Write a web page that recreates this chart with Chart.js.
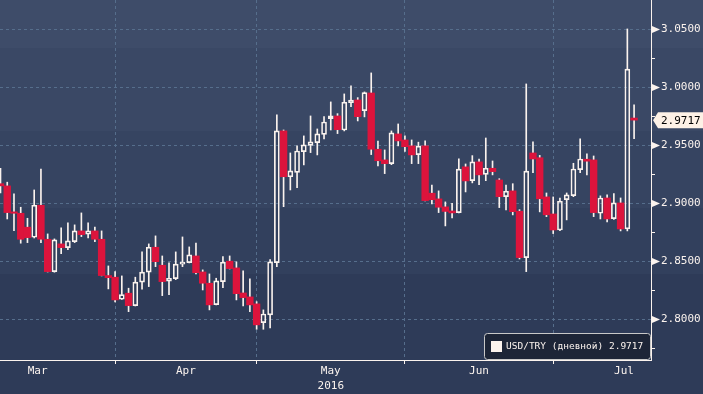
<!DOCTYPE html>
<html>
<head>
<meta charset="utf-8">
<script src="https://cdn.jsdelivr.net/npm/chart.js@4.4.1/dist/chart.umd.min.js"></script>
<style>
  html, body { margin: 0; padding: 0; background: #2c3855; }
  canvas { display: block; }
</style>
</head>
<body>
<canvas id="fx" width="703" height="394"></canvas>
<script>
// USD/TRY daily candles, Mar - Jul 2016 (one entry per trading day)
const open = [2.9169, 2.9150, 2.8926, 2.8914, 2.8794, 2.8707, 2.8983, 2.8690, 2.8411, 2.8650,
  2.8618, 2.8670, 2.8762, 2.8733, 2.8762, 2.8690, 2.8377, 2.8363, 2.8173, 2.8225,
  2.8118, 2.8320, 2.8406, 2.8621, 2.8466, 2.8328, 2.8351, 2.8475, 2.8489, 2.8546,
  2.8408, 2.8311, 2.8127, 2.8325, 2.8501, 2.8443, 2.8227, 2.8193, 2.8133, 2.7971,
  2.8038, 2.8489, 2.9624, 2.9229, 2.9266, 2.9445, 2.9499, 2.9523, 2.9594, 2.9730,
  2.9753, 2.9632, 2.9868, 2.9891, 2.9799, 2.9951, 2.9466, 2.9374, 2.9342, 2.9598,
  2.9546, 2.9495, 2.9420, 2.9495, 2.9087, 2.9038, 2.8969, 2.8934, 2.8920, 2.9314,
  2.9195, 2.9357, 2.9249, 2.9302, 2.9201, 2.9057, 2.9107, 2.8932, 2.8532, 2.9434,
  2.9393, 2.9055, 2.8908, 2.8770, 2.9032, 2.9066, 2.9290, 2.9380, 2.9374, 2.8914,
  2.9046, 2.8868, 2.9003, 2.8779, 2.9735];
const high = [2.9302, 2.9182, 2.9081, 2.8966, 2.8871, 2.9115, 2.9296, 2.8736, 2.8693, 2.8788,
  2.8831, 2.8814, 2.8917, 2.8831, 2.8796, 2.8762, 2.8460, 2.8411, 2.8374, 2.8268,
  2.8363, 2.8581, 2.8650, 2.8719, 2.8546, 2.8486, 2.8581, 2.8710, 2.8624, 2.8658,
  2.8426, 2.8391, 2.8354, 2.8540, 2.8546, 2.8495, 2.8417, 2.8348, 2.8152, 2.8081,
  2.8514, 2.9762, 2.9632, 2.9434, 2.9495, 2.9581, 2.9753, 2.9641, 2.9747, 2.9874,
  2.9773, 2.9943, 3.0012, 2.9911, 2.9960, 3.0124, 2.9536, 2.9460, 2.9624, 2.9684,
  2.9581, 2.9546, 2.9527, 2.9538, 2.9158, 2.9107, 2.9012, 2.9000, 2.9384, 2.9339,
  2.9411, 2.9382, 2.9563, 2.9365, 2.9212, 2.9158, 2.9169, 2.8945, 3.0029, 2.9529,
  2.9413, 2.9089, 2.9055, 2.9046, 2.9089, 2.9345, 2.9555, 2.9426, 2.9408, 2.9064,
  2.9072, 2.9083, 2.9046, 3.0503, 2.9848];
const low = [2.9089, 2.8865, 2.8764, 2.8656, 2.8661, 2.8701, 2.8661, 2.8408, 2.8406, 2.8566,
  2.8601, 2.8661, 2.8713, 2.8701, 2.8670, 2.8374, 2.8262, 2.8150, 2.8171, 2.8066,
  2.8115, 2.8259, 2.8282, 2.8454, 2.8204, 2.8213, 2.8342, 2.8454, 2.8486, 2.8391,
  2.8253, 2.8081, 2.8124, 2.8273, 2.8434, 2.8167, 2.8115, 2.8066, 2.7914, 2.7914,
  2.7926, 2.8454, 2.8971, 2.9115, 2.9135, 2.9331, 2.9437, 2.9417, 2.9555, 2.9632,
  2.9601, 2.9624, 2.9833, 2.9710, 2.9745, 2.9420, 2.9322, 2.9256, 2.9333, 2.9495,
  2.9447, 2.9342, 2.9342, 2.9020, 2.8995, 2.8920, 2.8805, 2.8874, 2.8917, 2.9098,
  2.9176, 2.9161, 2.9195, 2.9245, 2.8963, 2.8943, 2.8900, 2.8520, 2.8411, 2.9264,
  2.8926, 2.8885, 2.8739, 2.8764, 2.8857, 2.9057, 2.9264, 2.9245, 2.8885, 2.8865,
  2.8839, 2.8861, 2.8762, 2.8762, 2.9557];
const close = [2.9150, 2.8920, 2.8914, 2.8690, 2.8704, 2.8983, 2.8690, 2.8411, 2.8684, 2.8618,
  2.8676, 2.8762, 2.8730, 2.8762, 2.8690, 2.8377, 2.8359, 2.8167, 2.8213, 2.8118,
  2.8320, 2.8406, 2.8621, 2.8497, 2.8325, 2.8354, 2.8475, 2.8493, 2.8555, 2.8402,
  2.8311, 2.8124, 2.8331, 2.8492, 2.8437, 2.8221, 2.8187, 2.8124, 2.7952, 2.8046,
  2.8495, 2.9624, 2.9229, 2.9279, 2.9451, 2.9503, 2.9529, 2.9598, 2.9701, 2.9753,
  2.9635, 2.9871, 2.9889, 2.9747, 2.9954, 2.9466, 2.9367, 2.9342, 2.9607, 2.9538,
  2.9488, 2.9417, 2.9493, 2.9023, 2.9031, 2.8966, 2.8930, 2.8917, 2.9295, 2.9193,
  2.9357, 2.9245, 2.9302, 2.9273, 2.9057, 2.9104, 2.8928, 2.8532, 2.9277, 2.9382,
  2.9039, 2.8901, 2.8770, 2.9018, 2.9072, 2.9296, 2.9382, 2.9363, 2.8920, 2.9046,
  2.8865, 2.9003, 2.8779, 3.0156, 2.9717];

const seriesName = 'USD/TRY (дневной)';
const monthLabels = ['Mar', 'Apr', 'May', 'Jun', 'Jul'];
const yearLabel = '2016';
const monthStarts = [17, 38, 60, 82];        // index of first trading day of Apr..Jul
const monthMids = [5.5, 27.5, 49, 71, 92.5]; // middle of each month, in trading days
const yMajor = [2.80, 2.85, 2.90, 2.95, 3.00, 3.05];
const yMinor = [2.775, 2.825, 2.875, 2.925, 2.975, 3.025];

const RED = '#dc143c';
const CREAM = '#fbf3ee';
const GRID = '#566e8c';
const FONT = 'DejaVu Sans Mono';

const idx = close.map((_, i) => i);
const isUp = i => close[i] >= open[i];
const lastClose = close[close.length - 1];
const isMajor = v => yMajor.some(m => Math.abs(m - v) < 1e-6);

const upperWick = idx.map(i => ({ x: i, y: [Math.max(open[i], close[i]), high[i]] }));
const lowerWick = idx.map(i => ({ x: i, y: [low[i], Math.min(open[i], close[i])] }));
const upBody = idx.filter(isUp).map(i => ({ x: i, y: [open[i], close[i]] }));
const downBody = idx.filter(i => !isUp(i)).map(i => ({ x: i, y: [close[i], open[i]] }));

const decorations = {
  id: 'decorations',
  beforeDraw(chart) {
    const { ctx, width, height } = chart;
    // stepped dark-blue background, lighter at the top
    const bands = [[0, '#3e4c69'], [48, '#3a4865'], [131, '#364461'], [208, '#32405d'], [274, '#2e3b58']];
    bands.forEach(([y0, c], k) => {
      const y1 = k + 1 < bands.length ? bands[k + 1][0] : height;
      ctx.fillStyle = c;
      ctx.fillRect(0, y0, width, y1 - y0);
    });
  },
  afterDraw(chart) {
    const { ctx } = chart;
    const ys = chart.scales.y;
    const area = chart.chartArea;
    ctx.save();

    // markers on the major price ticks
    ctx.fillStyle = CREAM;
    yMajor.forEach(v => {
      const y = Math.round(ys.getPixelForValue(v)) + 0.5;
      ctx.beginPath();
      ctx.moveTo(ys.left + 1, y - 3.5);
      ctx.lineTo(ys.left + 9, y);
      ctx.lineTo(ys.left + 1, y + 3.5);
      ctx.closePath();
      ctx.fill();
    });

    // last price tag
    const ty = ys.getPixelForValue(lastClose);
    ctx.beginPath();
    ctx.moveTo(ys.left + 2, ty);
    ctx.lineTo(ys.left + 7, ty - 8);
    ctx.lineTo(chart.width, ty - 8);
    ctx.lineTo(chart.width, ty + 8);
    ctx.lineTo(ys.left + 7, ty + 8);
    ctx.closePath();
    ctx.fillStyle = '#fdf1e6';
    ctx.fill();
    ctx.fillStyle = '#000';
    ctx.font = '11px "' + FONT + '"';
    ctx.textBaseline = 'middle';
    ctx.textAlign = 'left';
    ctx.fillText(lastClose.toFixed(4), ys.left + 10, ty + 1);

    // legend box in the lower right of the plot
    const bx = area.right - 167, by = area.bottom - 27, bw = 166, bh = 26;
    ctx.beginPath();
    ctx.roundRect(bx + 0.5, by + 0.5, bw, bh, 3);
    ctx.fillStyle = '#1d2537';
    ctx.fill();
    ctx.strokeStyle = '#c8c8c8';
    ctx.lineWidth = 1;
    ctx.stroke();
    ctx.fillStyle = CREAM;
    ctx.fillRect(bx + 7, by + 8, 11, 11);
    ctx.font = '9.5px "' + FONT + '"';
    ctx.fillText(seriesName + ' ' + lastClose.toFixed(4), bx + 22, by + 14);
    ctx.restore();
  }
};

new Chart(document.getElementById('fx'), {
  type: 'bar',
  data: {
    datasets: [
      { label: 'down', data: downBody, backgroundColor: RED, borderWidth: 0, barThickness: 6.7, grouped: false },
      { label: 'up', data: upBody, backgroundColor: 'rgba(0,0,0,0)', borderColor: CREAM, borderWidth: 1,
        borderSkipped: false, barThickness: 5, grouped: false },
      { label: 'upper wick', data: upperWick, backgroundColor: CREAM, borderWidth: 0, barThickness: 1, grouped: false },
      { label: 'lower wick', data: lowerWick, backgroundColor: CREAM, borderWidth: 0, barThickness: 1, grouped: false }
    ]
  },
  options: {
    responsive: false,
    devicePixelRatio: 1,
    animation: false,
    layout: { padding: 0 },
    plugins: { legend: { display: false }, tooltip: { enabled: false } },
    scales: {
      x: {
        type: 'linear', position: 'bottom', weight: 0,
        min: -0.074, max: 96.51, offset: false,
        afterBuildTicks: s => { s.ticks = monthStarts.map(v => ({ value: v })); },
        afterFit: s => { s.height = 4; s.paddingLeft = 0; s.paddingRight = 0; },
        ticks: { display: false },
        grid: { offset: false, color: GRID, lineWidth: 1, tickLength: 4, tickColor: CREAM, tickBorderDash: [] },
        border: { display: true, color: CREAM, width: 1, dash: [3, 3] }
      },
      xLabels: {
        type: 'linear', position: 'bottom', weight: 1,
        min: -0.074, max: 96.51, offset: false,
        afterBuildTicks: s => { s.ticks = monthMids.map(v => ({ value: v })); },
        afterFit: s => { s.height = 30; s.paddingLeft = 0; s.paddingRight = 0; },
        ticks: {
          autoSkip: false, maxRotation: 0, padding: 0, color: CREAM,
          font: { family: FONT, size: 11, lineHeight: 1.35 },
          callback: (v, i) => (i === 2 ? [monthLabels[i], yearLabel] : monthLabels[i])
        },
        grid: { display: false, drawTicks: false, offset: false },
        border: { display: false }
      },
      y: {
        type: 'linear', position: 'right',
        min: 2.76491, max: 3.07526, beginAtZero: false,
        afterBuildTicks: s => { s.ticks = yMinor.concat(yMajor).sort((a, b) => a - b).map(v => ({ value: v })); },
        afterFit: s => { s.width = 52; s.paddingTop = 0; s.paddingBottom = 0; },
        ticks: {
          padding: 6, color: CREAM,
          font: { family: FONT, size: 11 },
          callback: v => (isMajor(v) ? v.toFixed(4) : '')
        },
        grid: {
          color: c => (c.tick && isMajor(c.tick.value) ? GRID : 'rgba(0,0,0,0)'),
          lineWidth: 1, tickLength: 4, tickColor: CREAM, tickBorderDash: []
        },
        border: { display: true, color: CREAM, width: 1, dash: [3, 3] }
      }
    }
  },
  plugins: [decorations]
});
</script>
</body>
</html>
